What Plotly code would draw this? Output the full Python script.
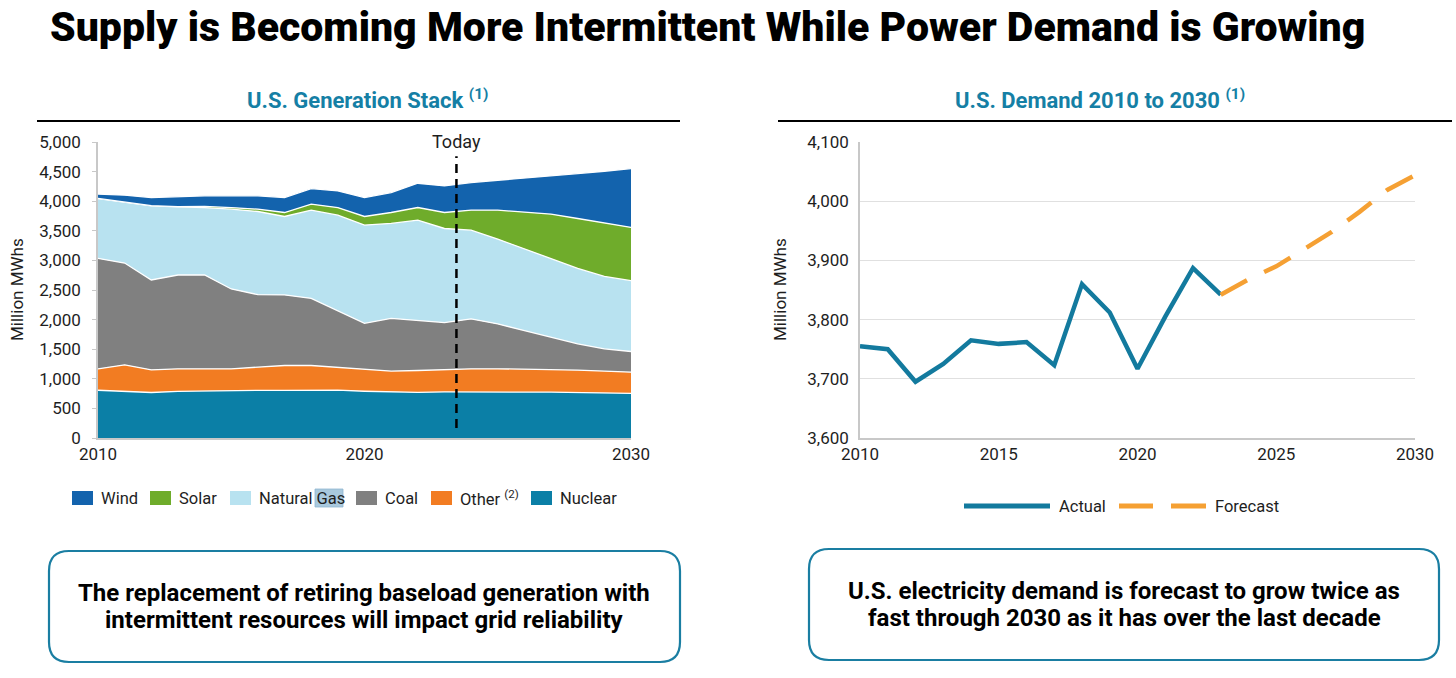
import plotly.graph_objects as go

W, H = 1456, 678

# ---------------- data ----------------
years = list(range(2010, 2031))
nuclear = [807, 790, 769, 789, 797, 797, 805, 805, 807, 809, 790, 778, 772, 779, 782, 780, 775, 775, 770, 765, 755]
other = [362, 446, 383, 380, 372, 372, 392, 420, 418, 388, 379, 352, 368, 378, 387, 389, 388, 382, 376, 365, 357]
coal = [1865, 1719, 1517, 1584, 1584, 1348, 1224, 1191, 1135, 955, 769, 892, 843, 792, 842, 758, 652, 545, 444, 376, 349]
natural_gas = [1011, 1034, 1252, 1151, 1140, 1348, 1405, 1326, 1488, 1612, 1658, 1602, 1697, 1590, 1500, 1433, 1376, 1320, 1275, 1224, 1196]
solar = [2, 3, 4, 6, 18, 28, 39, 67, 101, 129, 146, 185, 213, 270, 337, 488, 629, 759, 843, 899, 899]
wind = [73, 109, 137, 169, 180, 197, 225, 253, 264, 281, 320, 337, 410, 449, 467, 506, 568, 646, 758, 877, 995]

actual_years = list(range(2010, 2024))
actual_demand = [3755, 3750, 3695, 3725, 3765, 3759, 3762, 3723, 3860, 3812, 3717, 3805, 3887, 3842]
forecast_years = list(range(2023, 2031))
forecast_demand = [3842, 3868, 3890, 3918, 3948, 3982, 4019, 4044]

today_x = 2023.45

left_yticks = [0, 500, 1000, 1500, 2000, 2500, 3000, 3500, 4000, 4500, 5000]
left_xticks = [2010, 2020, 2030]
right_yticks = [3600, 3700, 3800, 3900, 4000, 4100]
right_xticks = [2010, 2015, 2020, 2025, 2030]

# ---------------- styles ----------------
C_WIND = "#1363ad"
C_SOLAR = "#6fac2b"
C_GAS = "#b8e2f0"
C_COAL = "#808080"
C_OTHER = "#f27c22"
C_NUC = "#0b7fa6"
C_TEAL = "#157fa5"
C_ACT = "#137a9e"
C_FC = "#f5a033"
FONT = "Roboto"
TXT = "#1e1e1e"


def px(x):
    return x / W


def py(y):
    return 1 - y / H


fig = go.Figure()

series = [("Nuclear", nuclear, C_NUC), ("Other", other, C_OTHER), ("Coal", coal, C_COAL),
          ("Natural Gas", natural_gas, C_GAS), ("Solar", solar, C_SOLAR), ("Wind", wind, C_WIND)]
for name, vals, col in series:
    fig.add_trace(go.Scatter(x=years, y=vals, name=name, stackgroup="gen", mode="lines",
                             line=dict(color="white", width=1.3), fillcolor=col,
                             xaxis="x", yaxis="y", showlegend=False, hoverinfo="skip"))

fig.add_trace(go.Scatter(x=actual_years, y=actual_demand, mode="lines", name="Actual",
                         line=dict(color=C_ACT, width=4.5), xaxis="x2", yaxis="y2", showlegend=False))
fig.add_trace(go.Scatter(x=forecast_years, y=forecast_demand, mode="lines", name="Forecast",
                         line=dict(color=C_FC, width=4.5, dash="30px,19px"), xaxis="x2", yaxis="y2",
                         showlegend=False))

tickfont = dict(family=FONT, size=17, color=TXT)

fig.update_layout(
    width=W, height=H, margin=dict(l=0, r=0, t=0, b=0, autoexpand=False),
    paper_bgcolor="white", plot_bgcolor="rgba(0,0,0,0)",
    xaxis=dict(domain=[px(98), px(631)], range=[2010, 2030], tickvals=left_xticks, automargin=False,
               showgrid=False, zeroline=False, showline=True, linecolor="#c8c8c8", linewidth=1.5,
               ticks="", tickfont=tickfont, ticklabelstandoff=0),
    yaxis=dict(domain=[py(438), py(142)], range=[0, 5000], tickvals=left_yticks, tickformat=",",
               automargin=False, showgrid=False, zeroline=False, showline=True, linecolor="#c8c8c8",
               linewidth=1.5, ticks="outside", ticklen=4, tickcolor="#c8c8c8", tickfont=tickfont,
               ticklabelstandoff=8),
    xaxis2=dict(domain=[px(860), px(1415)], range=[2010, 2030], tickvals=right_xticks, anchor="y2",
                automargin=False, showgrid=False, zeroline=False, showline=True, linecolor="#c8c8c8",
                linewidth=1.5, ticks="", tickfont=tickfont, ticklabelstandoff=0),
    yaxis2=dict(domain=[py(438), py(142)], range=[3600, 4100], tickvals=right_yticks, tickformat=",",
                anchor="x2", automargin=False, showgrid=True, gridcolor="#e0e0e0", gridwidth=1,
                zeroline=False, showline=True, linecolor="#c8c8c8", linewidth=1.5, ticks="",
                tickfont=tickfont, ticklabelstandoff=6),
)

shapes = []
annotations = []

# y-axis titles
for xc in (17, 780):
    annotations.append(dict(xref="paper", yref="paper", x=px(xc), y=py(290), text="Million MWhs",
                            textangle=-90, showarrow=False, xanchor="center", yanchor="middle",
                            font=dict(family=FONT, size=17, color=TXT)))

# Today line
shapes.append(dict(type="line", xref="x", yref="y", x0=today_x, x1=today_x, y0=170, y1=4760,
                   line=dict(color="black", width=2.5, dash="9px,6px")))
annotations.append(dict(xref="x", yref="y", x=today_x, y=4790, text="Today", showarrow=False,
                        yanchor="bottom", font=dict(family=FONT, size=18, color=TXT)))

# main title
annotations.append(dict(xref="paper", yref="paper", x=px(48), y=py(27), xanchor="left", yanchor="middle",
                        text="Supply is Becoming More Intermittent While Power Demand is Growing",
                        showarrow=False, font=dict(family=FONT, size=41, color="black", weight=900)))
# subtitles
annotations.append(dict(xref="paper", yref="paper", x=px(367), y=py(99), xanchor="center", yanchor="middle",
                        text="<b>U.S. Generation Stack <sup>(1)</sup></b>", showarrow=False,
                        font=dict(family=FONT, size=22, color=C_TEAL)))
annotations.append(dict(xref="paper", yref="paper", x=px(1100), y=py(99), xanchor="center", yanchor="middle",
                        text="<b>U.S. Demand 2010 to 2030 <sup>(1)</sup></b>", showarrow=False,
                        font=dict(family=FONT, size=22, color=C_TEAL)))
shapes.append(dict(type="line", xref="paper", yref="paper", x0=px(37), x1=px(680), y0=py(121), y1=py(121),
                   line=dict(color="black", width=2)))
shapes.append(dict(type="line", xref="paper", yref="paper", x0=px(778), x1=px(1452), y0=py(121), y1=py(121),
                   line=dict(color="black", width=2)))

# left legend
leg_items = [("Wind", C_WIND, 72), ("Solar", C_SOLAR, 150), ("Natural Gas", C_GAS, 230),
             ("Coal", C_COAL, 356), ("Other <sup>(2)</sup>", C_OTHER, 431), ("Nuclear", C_NUC, 531)]
# selection highlight behind "Gas" as seen in the source
shapes.append(dict(type="rect", xref="paper", yref="paper", x0=px(315), x1=px(343), y0=py(507), y1=py(489),
                   fillcolor="#a9c9de", line=dict(color="#8fb6d0", width=0.8), layer="below"))
for label, col, x0 in leg_items:
    shapes.append(dict(type="rect", xref="paper", yref="paper", x0=px(x0), x1=px(x0 + 21),
                       y0=py(505), y1=py(491), fillcolor=col, line=dict(width=0)))
    annotations.append(dict(xref="paper", yref="paper", x=px(x0 + 27), y=py(498), xanchor="left",
                            yanchor="middle", text=label, showarrow=False,
                            font=dict(family=FONT, size=16.5, color=TXT)))

# right legend
shapes.append(dict(type="line", xref="paper", yref="paper", x0=px(964), x1=px(1050), y0=py(506), y1=py(506),
                   line=dict(color=C_ACT, width=5)))
annotations.append(dict(xref="paper", yref="paper", x=px(1057), y=py(506), xanchor="left", yanchor="middle",
                        text="Actual", showarrow=False, font=dict(family=FONT, size=16.5, color=TXT)))
for a, b in [(1119, 1153), (1171, 1206)]:
    shapes.append(dict(type="line", xref="paper", yref="paper", x0=px(a), x1=px(b), y0=py(506), y1=py(506),
                       line=dict(color=C_FC, width=5)))
annotations.append(dict(xref="paper", yref="paper", x=px(1213), y=py(506), xanchor="left", yanchor="middle",
                        text="Forecast", showarrow=False, font=dict(family=FONT, size=16.5, color=TXT)))


def rounded_box(x0, y0, x1, y1, r):
    X = lambda v: px(v)
    Y = lambda v: py(v)
    return (f"M {X(x0 + r)},{Y(y0)} L {X(x1 - r)},{Y(y0)} Q {X(x1)},{Y(y0)} {X(x1)},{Y(y0 + r)} "
            f"L {X(x1)},{Y(y1 - r)} Q {X(x1)},{Y(y1)} {X(x1 - r)},{Y(y1)} "
            f"L {X(x0 + r)},{Y(y1)} Q {X(x0)},{Y(y1)} {X(x0)},{Y(y1 - r)} "
            f"L {X(x0)},{Y(y0 + r)} Q {X(x0)},{Y(y0)} {X(x0 + r)},{Y(y0)} Z")


for (x0, y0, x1, y1) in [(49, 551, 680, 662), (809, 549, 1439, 660)]:
    shapes.append(dict(type="path", xref="paper", yref="paper", path=rounded_box(x0, y0, x1, y1, 20),
                       fillcolor="white", line=dict(color="#1a7ea2", width=2.2)))

box_lines = [
    (364, 593, "The replacement of retiring baseload generation with"),
    (364, 620, "intermittent resources will impact grid reliability"),
    (1124, 591, "U.S. electricity demand is forecast to grow twice as"),
    (1124, 618, "fast through 2030 as it has over the last decade"),
]
for xc, yc, t in box_lines:
    annotations.append(dict(xref="paper", yref="paper", x=px(xc), y=py(yc), xanchor="center", yanchor="middle",
                            text=f"<b>{t}</b>", showarrow=False, font=dict(family=FONT, size=24, color="black")))

fig.update_layout(shapes=shapes, annotations=annotations)

fig.write_html("out.html", config={"displayModeBar": False},
               post_script="document.body.style.margin='0';document.body.style.overflow='hidden';")
